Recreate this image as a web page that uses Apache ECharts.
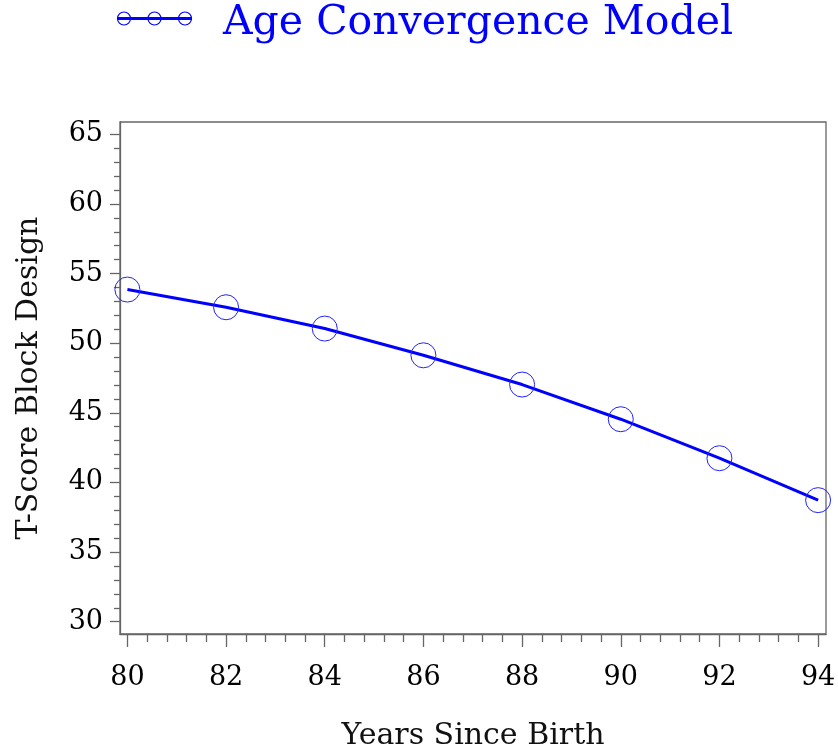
<!DOCTYPE html>
<html>
<head>
<meta charset="utf-8">
<script src="https://cdn.jsdelivr.net/npm/echarts@6/dist/echarts.min.js"></script>
<style>
html,body{margin:0;padding:0;background:#fff;}
#chart{width:838px;height:749px;}
</style>
</head>
<body>
<div id="chart"></div>
<script>
// Data
var years = [80, 82, 84, 86, 88, 90, 92, 94];
var tScores = [53.85, 52.58, 51.05, 49.13, 47.03, 44.54, 41.74, 38.73];
var xTicks = [80, 82, 84, 86, 88, 90, 92, 94];
var yTicks = [30, 35, 40, 45, 50, 55, 60, 65];
var seriesName = 'Age Convergence Model';
var xTitle = 'Years Since Birth';
var yTitle = 'T-Score Block Design';

var xMin = 79.85, xMax = 94.16, yMin = 29.12, yMax = 65.88;
var xMinor = [];
for (var i = 0; i < xTicks.length - 1; i++) {
  for (var k = 1; k < 5; k++) xMinor.push(+(xTicks[i] + k * 0.4).toFixed(2));
}
var yMinor = [];
for (var j = 0; j < yTicks.length - 1; j++) {
  for (var m = 1; m < 5; m++) yMinor.push(yTicks[j] + m);
}

var FONT = 'DejaVu Serif';
var axisGray = '#666666';

var chart = echarts.init(document.getElementById('chart'), null, {renderer: 'canvas'});
chart.setOption({
  backgroundColor: '#fff',
  animation: false,
  grid: {left: 120, top: 122, right: 12, bottom: 115, containLabel: false, outerBoundsMode: 'none',
    show: true, borderColor: axisGray, borderWidth: 1.3, backgroundColor: 'transparent'},
  xAxis: [{
    type: 'value', min: xMin, max: xMax,
    name: xTitle, nameLocation: 'middle', nameGap: 87,
    nameTextStyle: {fontFamily: FONT, fontSize: 30, color: '#111'},
    axisLine: {show: true, lineStyle: {color: axisGray, width: 1.3}},
    axisTick: {show: true, customValues: xTicks, length: 13, lineStyle: {color: axisGray, width: 1.3}},
    axisLabel: {customValues: xTicks, fontFamily: FONT, fontSize: 27, color: '#000', margin: 30, hideOverlap: false},
    splitLine: {show: false}
  }, {
    type: 'value', min: xMin, max: xMax, position: 'bottom',
    axisLine: {show: false},
    axisTick: {show: true, customValues: xMinor, length: 8, lineStyle: {color: axisGray, width: 1.3}},
    axisLabel: {show: false},
    splitLine: {show: false}
  }],
  yAxis: [{
    type: 'value', min: yMin, max: yMax,
    name: yTitle, nameLocation: 'middle', nameGap: 76, nameRotate: 90,
    nameTextStyle: {fontFamily: FONT, fontSize: 30, color: '#111'},
    axisLine: {show: true, lineStyle: {color: axisGray, width: 1.3}},
    axisTick: {show: true, customValues: yTicks, length: 10, lineStyle: {color: axisGray, width: 1.3}},
    axisLabel: {customValues: yTicks, fontFamily: FONT, fontSize: 27, color: '#000', margin: 17},
    splitLine: {show: false}
  }, {
    type: 'value', min: yMin, max: yMax, position: 'left',
    axisLine: {show: false},
    axisTick: {show: true, customValues: yMinor, length: 6, lineStyle: {color: axisGray, width: 1.3}},
    axisLabel: {show: false},
    splitLine: {show: false}
  }],
  series: [{
    name: seriesName,
    type: 'line',
    xAxisIndex: 0, yAxisIndex: 0,
    data: years.map(function (y, i) { return [y, tScores[i]]; }),
    symbol: 'circle',
    symbolSize: 25,
    showAllSymbol: true,
    clip: false,
    lineStyle: {color: '#0000ff', width: 3},
    itemStyle: {color: 'rgba(0,0,0,0)', borderColor: '#2222ff', borderWidth: 1}
  }],
  graphic: [
    {type: 'line', shape: {x1: 117, y1: 18.5, x2: 192, y2: 18.5}, style: {stroke: '#0000ff', lineWidth: 3}},
    {type: 'circle', shape: {cx: 124, cy: 18.5, r: 6.5}, style: {stroke: '#0000ff', fill: 'none', lineWidth: 1.2}},
    {type: 'circle', shape: {cx: 154.5, cy: 18.5, r: 6.5}, style: {stroke: '#0000ff', fill: 'none', lineWidth: 1.2}},
    {type: 'circle', shape: {cx: 185, cy: 18.5, r: 6.5}, style: {stroke: '#0000ff', fill: 'none', lineWidth: 1.2}},
    {type: 'text', x: 223, y: 23, style: {text: seriesName, fontFamily: FONT, fontSize: 41, fill: '#0000ff', verticalAlign: 'middle', align: 'left'}}
  ]
});
</script>
</body>
</html>
